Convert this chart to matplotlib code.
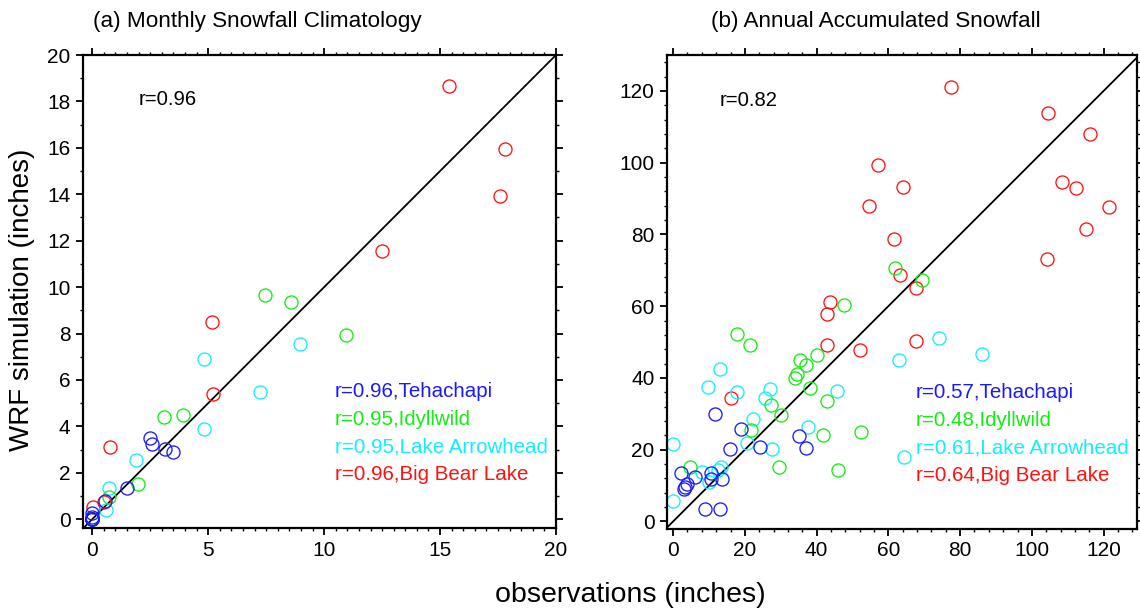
import matplotlib
matplotlib.use("Agg")
import matplotlib.pyplot as plt
from matplotlib.ticker import MultipleLocator

plt.rcParams['font.family'] = ['Liberation Sans', 'DejaVu Sans']

stations = ["Tehachapi", "Idyllwild", "Lake Arrowhead", "Big Bear Lake"]
colors = ["#1a1aff", "#11ee11", "#11eeff", "#ff1111"]

# (a) monthly climatology, inches (obs, wrf)
mon_obs = {
    "Tehachapi": [2.48, 2.56, 3.15, 3.49, 1.5, 0.55, 0.0, 0.0, 0.0, 0.0, 0.0, 0.0],
    "Idyllwild": [7.44, 8.58, 10.94, 3.11, 3.93, 1.99, 0.73, 0.0, 0.0, 0.0, 0.0, 0.0],
    "Lake Arrowhead": [8.94, 4.81, 7.23, 4.81, 1.9, 0.72, 0.6, 0.0, 0.0, 0.0, 0.0, 0.0],
    "Big Bear Lake": [15.38, 17.78, 17.6, 12.48, 5.18, 5.21, 0.75, 0.03, 0.49, 0.0, 0.0, 0.0],
}
mon_wrf = {
    "Tehachapi": [3.49, 3.22, 3.02, 2.9, 1.36, 0.8, 0.28, 0.1, 0.0, 0.0, 0.0, 0.0],
    "Idyllwild": [9.64, 9.34, 7.93, 4.42, 4.48, 1.52, 0.97, 0.0, 0.0, 0.0, 0.0, 0.0],
    "Lake Arrowhead": [7.56, 6.9, 5.49, 3.89, 2.57, 1.35, 0.4, 0.0, 0.0, 0.0, 0.0, 0.0],
    "Big Bear Lake": [18.66, 15.96, 13.93, 11.55, 8.5, 5.39, 3.1, 0.54, 0.73, 0.0, 0.0, 0.0],
}
mon_r = ["0.96", "0.95", "0.95", "0.96"]
mon_r_all = "0.96"

# (b) annual accumulated snowfall, inches (obs, wrf)
ann_obs = {
    "Tehachapi": [11.8, 18.9, 15.9, 24.2, 35.1, 37.0, 2.2, 6.0, 10.5, 10.6,
                  13.6, 3.8, 3.3, 2.9, 9.0, 13.2],
    "Idyllwild": [47.7, 17.8, 21.3, 35.4, 40.1, 37.0, 34.6, 33.9, 38.1, 43.0,
                  27.4, 30.1, 21.6, 41.7, 52.3, 29.5, 46.0, 4.7, 61.8, 69.4],
    "Lake Arrowhead": [13.1, 9.6, 17.8, 27.0, 25.6, 45.8, 22.3, 37.7, 20.6, 27.7,
                       0.1, 13.3, 12.5, 8.0, 10.1, 0.1, 63.0, 64.4, 74.0, 86.0],
    "Big Bear Lake": [77.5, 104.5, 116.2, 57.2, 64.1, 54.6, 108.4, 112.3, 121.5, 61.5,
                      115.1, 104.3, 63.3, 67.7, 43.6, 42.8, 42.8, 52.2, 67.7, 16.2],
}
ann_wrf = {
    "Tehachapi": [29.9, 25.9, 20.1, 20.8, 23.8, 20.5, 13.6, 12.5, 13.4, 11.8,
                  11.8, 10.4, 9.7, 9.0, 3.6, 3.6],
    "Idyllwild": [60.4, 52.2, 49.1, 44.9, 46.3, 43.5, 41.2, 40.1, 37.1, 33.7,
                  32.4, 29.7, 25.4, 24.2, 24.8, 15.1, 14.4, 15.1, 70.6, 67.2],
    "Lake Arrowhead": [42.4, 37.4, 36.0, 37.0, 34.3, 36.4, 28.5, 26.4, 21.9, 20.2,
                       21.6, 15.1, 14.3, 13.9, 11.1, 5.8, 45.0, 18.0, 51.2, 46.7],
    "Big Bear Lake": [121.1, 113.7, 107.9, 99.4, 93.1, 87.9, 94.7, 93.0, 87.5, 78.7,
                      81.6, 73.1, 68.7, 65.0, 61.1, 57.8, 49.1, 47.9, 50.3, 34.3],
}
ann_r = ["0.57", "0.48", "0.61", "0.64"]
ann_r_all = "0.82"

fig = plt.figure(figsize=(11.4, 6.12), dpi=100)
ax1 = fig.add_axes([83 / 1140, 1 - 528 / 612, 473 / 1140, 473 / 612])
ax2 = fig.add_axes([667 / 1140, 1 - 529 / 612, 470 / 1140, 474 / 612])


def draw_panel(ax, obs, wrf, r_list, r_all, lim, major, minor_x, minor_y,
               r_xy, leg_x, leg_y):
    # 1:1 line
    ax.plot([lim[2], lim[3]], [lim[2], lim[3]], color="black", lw=1.3, zorder=1)
    for name, c in reversed(list(zip(stations, colors))):
        ax.plot(obs[name], wrf[name], "o", mfc="none", mec=c, ms=9.4, mew=0.95,
                zorder=2)
    ax.set_xlim(lim[0], lim[1])
    ax.set_ylim(lim[2], lim[3])
    ax.xaxis.set_major_locator(MultipleLocator(major[0]))
    ax.yaxis.set_major_locator(MultipleLocator(major[1]))
    ax.xaxis.set_minor_locator(MultipleLocator(minor_x))
    ax.yaxis.set_minor_locator(MultipleLocator(minor_y))
    ax.tick_params(which="both", direction="out", top=True, right=True,
                   labelsize=15, width=1.3)
    ax.tick_params(which="major", length=5, pad=4)
    ax.tick_params(which="minor", length=2.5, width=1.0)
    for s in ax.spines.values():
        s.set_linewidth(1.6)
    ax.text(r_xy[0], r_xy[1], "r=" + r_all, transform=ax.transAxes,
            fontsize=14.6, va="center", ha="left")
    for i, (name, c, r) in enumerate(zip(stations, colors, r_list)):
        ax.text(leg_x, leg_y - i * 0.0585, "r=%s,%s" % (r, name),
                transform=ax.transAxes, color=c, fontsize=14.8,
                va="center", ha="left")


draw_panel(ax1, mon_obs, mon_wrf, mon_r, mon_r_all, [-0.4, 20, -0.38, 20],
           (5, 2), 0.5, 1, (0.117, 0.905), 0.533, 0.288)
draw_panel(ax2, ann_obs, ann_wrf, ann_r, ann_r_all, [-1.7, 129.3, -2.1, 130],
           (20, 20), 4, 4, (0.113, 0.905), 0.53, 0.288)

fig.text(93 / 1140, 1 - 22 / 612, "(a) Monthly Snowfall Climatology",
         fontsize=16.2, ha="left", va="center")
fig.text(711 / 1140, 1 - 22 / 612, "(b) Annual Accumulated Snowfall",
         fontsize=16.2, ha="left", va="center")
fig.text(22 / 1140, 1 - 300 / 612, "WRF simulation (inches)", fontsize=20,
         rotation=90, ha="center", va="center")
fig.text(630 / 1140, 1 - 595 / 612, "observations (inches)", fontsize=20.5,
         ha="center", va="center")

fig.savefig("out.png", dpi=100)
